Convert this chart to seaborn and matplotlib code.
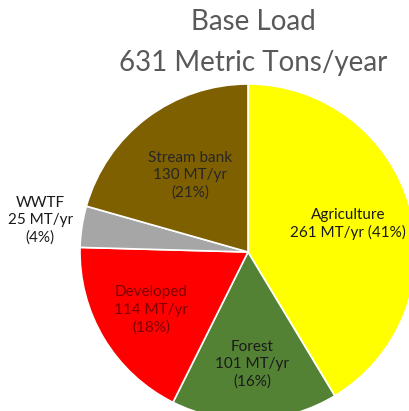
import numpy as np
import matplotlib
matplotlib.use("Agg")
import matplotlib.pyplot as plt
import seaborn as sns

# ==== data ====
sources = ["Agriculture", "Forest", "Developed", "WWTF", "Stream bank"]
loads = [261, 101, 114, 25, 130]          # MT/yr
shares = [41, 16, 18, 4, 21]              # %
total_load = 631

# ==== style ====
colors = ["#FFFF00", "#548235", "#FF0000", "#A6A6A6", "#7F6000"]
text_colors = ["#1a1a1a", "#1a1a1a", "#7F0000", "#1a1a1a", "#262626"]
label_r = [0.62, 0.67, 0.67, 1.25, 0.57]

sns.set_theme(style="white")
plt.rcParams["font.family"] = ["Lato", "DejaVu Sans"]

fig = plt.figure(figsize=(4.10, 4.11), dpi=100)
ax = fig.add_axes([0, 0, 1, 1])

wedges, _ = ax.pie(loads, colors=colors, startangle=90, counterclock=False,
                   radius=1, wedgeprops=dict(edgecolor="white", linewidth=1.2))

for w, name, v, p, tc, r in zip(wedges, sources, loads, shares, text_colors, label_r):
    ang = np.deg2rad((w.theta1 + w.theta2) / 2)
    x, y = r * np.cos(ang), r * np.sin(ang)
    if name == "Agriculture":
        txt = f"{name}\n{v} MT/yr ({p}%)"
    else:
        txt = f"{name}\n{v} MT/yr\n({p}%)"
    ax.text(x, y, txt, ha="center", va="center", fontsize=11, color=tc,
            linespacing=1.3)

ax.text(0.03, 1.37, "Base Load", ha="center", va="center", fontsize=20, color="#595959")
ax.text(0.03, 1.125, f"{total_load} Metric Tons/year", ha="center", va="center",
        fontsize=20, color="#595959")

ax.set_xlim(-248 / 168, 162 / 168)
ax.set_ylim(-159 / 168, 252 / 168)
ax.set_aspect("equal")
ax.axis("off")

fig.savefig("out.png", dpi=100, facecolor="white")
